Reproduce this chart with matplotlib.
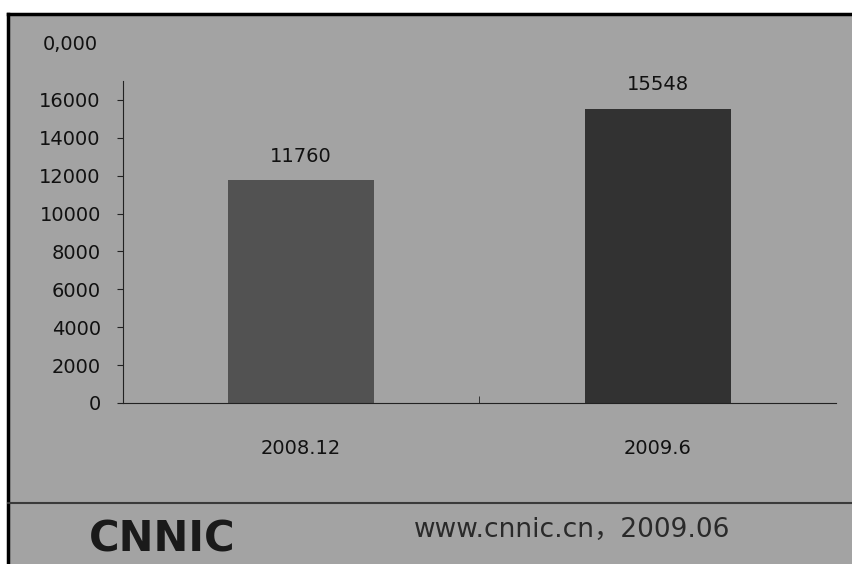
import matplotlib
matplotlib.use('Agg')
import matplotlib.pyplot as plt
from matplotlib.patches import Rectangle
from matplotlib.lines import Line2D

# data
categories = ['2008.12', '2009.6']
values = [11760, 15548]
yticks = [0, 2000, 4000, 6000, 8000, 10000, 12000, 14000, 16000]
bar_colors = ['#525252', '#323232']

W, H = 853, 564
fig = plt.figure(figsize=(W / 100, H / 100), dpi=100)
fig.patch.set_facecolor('white')

# scanned gray panel with black top/left border
panel = Rectangle((8 / W, 0), 1 - 8 / W, 1 - 14 / H, transform=fig.transFigure,
                  facecolor='#a3a3a3', edgecolor='none', zorder=-5)
fig.patches.append(panel)
fig.add_artist(Line2D([8 / W, 1], [1 - 14 / H, 1 - 14 / H], color='black', lw=2.5))
fig.add_artist(Line2D([8 / W, 8 / W], [0, 1 - 14 / H], color='black', lw=2.5))
# footer separator
fig.add_artist(Line2D([8 / W, 1], [1 - 503 / H, 1 - 503 / H], color='#3a3a3a', lw=1.5))

ax = fig.add_axes([123 / W, 1 - 403 / H, (836 - 123) / W, (403 - 81) / H])
ax.set_facecolor('none')
ax.set_zorder(1)

fs = 14
x = list(range(len(categories)))
bars = ax.bar(x, values, width=0.41, color=bar_colors, zorder=2)
for b, v in zip(bars, values):
    ax.text(b.get_x() + b.get_width() / 2, v + 750, str(v), ha='center', va='bottom',
            fontsize=fs, color='#111111')

ax.set_xlim(-0.5, 1.5)
ax.set_ylim(0, 17000)
ax.set_yticks(yticks)
ax.set_yticklabels([str(t) for t in yticks], fontsize=fs, color='#111111')
ax.set_xticks(x)
ax.set_xticklabels(categories, fontsize=fs, color='#111111')
ax.tick_params(axis='x', length=0, pad=26)
ax.tick_params(axis='y', length=4, direction='out', color='#222222', pad=12)
ax.set_xticks([0.5], minor=True)
ax.tick_params(axis='x', which='minor', length=5, direction='in', color='#222222')
for s in ['top', 'right']:
    ax.spines[s].set_visible(False)
ax.spines['left'].set_color('#222222')
ax.spines['bottom'].set_color('#222222')

# stray label above the axis
fig.text(98 / W, 1 - 45 / H, '0,000', ha='right', va='center', fontsize=fs, color='#111111')

# footer
fig.text(162 / W, 1 - 540 / H, 'CNNIC', ha='center', va='center', fontsize=30,
         fontweight='bold', color='#1a1a1a')
fig.text(572 / W, 1 - 530 / H, 'www.cnnic.cn，2009.06', ha='center', va='center',
         fontsize=19, family=['DejaVu Sans', 'Noto Sans CJK SC'], color='#2a2a2a')

fig.savefig('out.png', dpi=100)
